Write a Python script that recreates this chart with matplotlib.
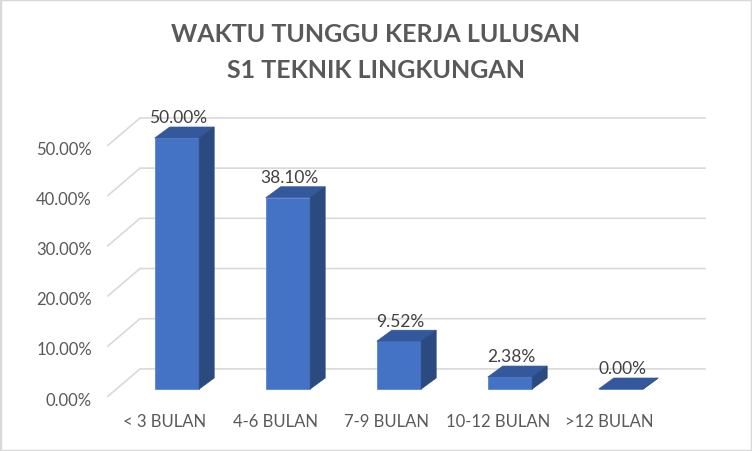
import numpy as np
import matplotlib
matplotlib.use("Agg")
from matplotlib import pyplot as plt
from matplotlib.patches import Polygon, Rectangle

categories = ["< 3 BULAN", "4-6 BULAN", "7-9 BULAN", "10-12 BULAN", ">12 BULAN"]
values = [50.00, 38.10, 9.52, 2.38, 0.00]
ticks = [0, 10, 20, 30, 40, 50]
title_lines = ["WAKTU TUNGGU KERJA LULUSAN", "S1 TEKNIK LINGKUNGAN"]

plt.rcParams["font.family"] = ["Lato", "DejaVu Sans"]

fig = plt.figure(figsize=(7.52, 4.52), dpi=100)
ax = fig.add_axes([0, 0, 1, 1])
ax.set_xlim(-177 / 111, (752 - 177) / 111)
ax.set_ylim((390 - 452) / 5.02, 390 / 5.02)
ax.axis("off")

# fake 3d depth (in data units)
dx, dy = 0.135, 2.19
width = 0.4
grey = "#595959"
grid_c = "#D9D9D9"

# gridlines: back wall + diagonal floor lines
for t in ticks:
    ax.plot([-0.622, -0.333, 4.757], [t - 1.45, t + 4.0, t + 4.0],
            color=grid_c, lw=1.2, zorder=1)
    ax.text(-0.766, t - 2.1, "{:.2f}%".format(t), ha="right", va="center",
            fontsize=12, color=grey)

x = np.arange(len(categories))
ax.bar(x, values, width=width, color="#4472C4", edgecolor="#5A85D0",
       linewidth=0.6, zorder=3)
for xi, v in zip(x, values):
    l, r = xi - width / 2, xi + width / 2
    top = Polygon([(l, v), (r, v), (r + dx, v + dy), (l + dx, v + dy)],
                  closed=True, facecolor="#34589C", edgecolor="#34589C",
                  lw=0.5, zorder=4)
    side = Polygon([(r, 0), (r, v), (r + dx, v + dy), (r + dx, dy)],
                   closed=True, facecolor="#2B4A80", edgecolor="#2B4A80",
                   lw=0.5, zorder=4)
    ax.add_patch(top)
    ax.add_patch(side)
    ax.text(xi + 0.01, v + 4.1, "{:.2f}%".format(v), ha="center",
            va="center", fontsize=12.5, color="#404040", zorder=5)

for xi, c in zip(x, categories):
    ax.text(xi - 0.11, -6.4, c, ha="center", va="center", fontsize=12,
            color=grey)

for yy, line in zip([1 - 35 / 452, 1 - 71 / 452], title_lines):
    fig.text(0.5, yy, line, ha="center", va="center", fontsize=18,
             fontweight="bold", color=grey)

fig.patches.append(Rectangle((0, 0), 1, 1, transform=fig.transFigure,
                             fill=False, edgecolor="#D9D9D9", lw=2.5))

fig.savefig("out.png", dpi=100)
